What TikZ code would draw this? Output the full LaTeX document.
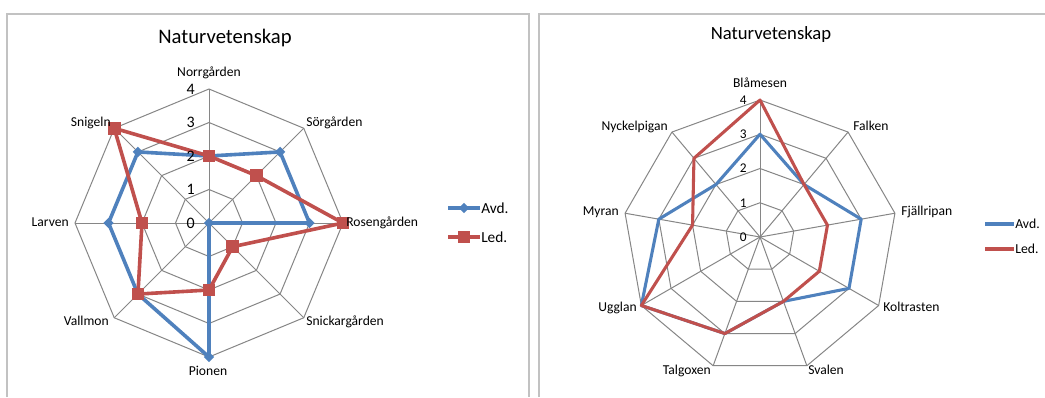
\documentclass[tikz,border=0pt]{standalone}
\usepackage{fontspec}
\setmainfont{Carlito}
\usetikzlibrary{shapes.geometric}
\definecolor{avdblue}{HTML}{4F81BD}
\definecolor{ledred}{HTML}{C0504D}
\definecolor{gridgray}{HTML}{868686}
\definecolor{framegray}{HTML}{C2C2C2}
\begin{document}
\begin{tikzpicture}[x=0.75pt,y=-0.75pt,
  gridline/.style={draw=gridgray, line width=0.75pt},
  avdline/.style={draw=avdblue, line width=2.7pt, line join=round},
  ledline/.style={draw=ledred, line width=2.7pt, line join=round},
  avdthin/.style={draw=avdblue, line width=2.3pt, line join=round},
  ledthin/.style={draw=ledred, line width=2.3pt, line join=round},
  avdmark/.style={diamond, fill=avdblue, inner sep=0pt, minimum size=8pt},
  ledmark/.style={rectangle, fill=ledred, inner sep=0pt, minimum size=9.5pt},
  panel/.style={draw=framegray, line width=1.5pt},
  lbl/.style={inner sep=0pt, font=\fontsize{10.2}{12}\selectfont, text height=0.72em, text depth=0.22em},
  ticklbl/.style={inner sep=0pt, anchor=east, font=\fontsize{12}{14}\selectfont},
  ticksmall/.style={inner sep=0pt, anchor=east, font=\fontsize{10}{12}\selectfont},
  title/.style={inner sep=0pt, font=\fontsize{15.5}{18}\selectfont},
  titlesmall/.style={inner sep=0pt, font=\fontsize{14}{17}\selectfont},
  legbig/.style={inner sep=0pt, anchor=west, font=\fontsize{11.5}{13}\selectfont},
  legsmall/.style={inner sep=0pt, anchor=west, font=\fontsize{10.3}{12}\selectfont}
]
\useasboundingbox[fill=white] (0,0) rectangle (1045,397);

% panel frames
\draw[panel] (7,397) -- (7,14) -- (529,14) -- (529,397);
\draw[panel] (539,397) -- (539,14) -- (1045,14);

% ---------- left chart: eight axes ----------
\def\lu{33.5}
\begin{scope}[shift={(209,223)}]
  \foreach \k in {0,...,7} \coordinate (L\k) at ({-90+\k*45}:{4*\lu});
  \foreach \r in {1,2,3,4}
    \draw[gridline] (-90:{\r*\lu}) \foreach \k in {1,...,7}{ -- ({-90+\k*45}:{\r*\lu}) } -- cycle;
  \foreach \k in {0,...,7} \draw[gridline] (0,0) -- (L\k);
  \foreach \v [count=\k from 0] in {2,3,3,0,4,3,3,3}
    \coordinate (LA\k) at ({-90+\k*45}:{\v*\lu});
  \foreach \v [count=\k from 0] in {2,2,4,1,2,3,2,4}
    \coordinate (LL\k) at ({-90+\k*45}:{\v*\lu});
  \draw[avdline] (LA0) \foreach \k in {1,...,7}{ -- (LA\k) } -- cycle;
  \foreach \k in {0,...,7} \node[avdmark] (LAm\k) at (LA\k) {};
  \draw[ledline] (LL0) \foreach \k in {1,...,7}{ -- (LL\k) } -- cycle;
  \foreach \k in {0,...,7} \node[ledmark] (LLm\k) at (LL\k) {};
  \foreach \v in {0,...,4} \node[ticklbl] (Lt\v) at (-14,{-\v*\lu}) {\v};
\end{scope}

\node[title] (Ltitle) at (225,38) {Naturvetenskap};
\node[lbl] (Lnorr) at (209,73) {Norrgården};
\node[lbl, anchor=west] (Lsor) at (306,123) {Sörgården};
\node[lbl, anchor=west] (Lros) at (346,223) {Rosengården};
\node[lbl, anchor=west] (Lsni) at (306,322) {Snickargården};
\node[lbl] (Lpio) at (208,372) {Pionen};
\node[lbl, anchor=east] (Lval) at (109,322) {Vallmon};
\node[lbl, anchor=east] (Llar) at (69,223) {Larven};
\node[lbl, anchor=east] (Lsng) at (111,123) {Snigeln};

% left legend
\coordinate (LgA1) at (448,208); \coordinate (LgA2) at (480,208);
\coordinate (LgL1) at (448,237); \coordinate (LgL2) at (480,237);
\draw[avdline] (LgA1) -- (LgA2);
\node[avdmark] (LgAm) at (464,208) {};
\draw[ledline] (LgL1) -- (LgL2);
\node[ledmark] (LgLm) at (464,237) {};
\node[legbig] (LgAt) at (481,208) {Avd.};
\node[legbig] (LgLt) at (481,237) {Led.};

% ---------- right chart: nine axes ----------
\def\ru{34.25}
\begin{scope}[shift={(760,237)}]
  \foreach \k in {0,...,8} \coordinate (R\k) at ({-90+\k*40}:{4*\ru});
  \foreach \r in {1,2,3,4}
    \draw[gridline] (-90:{\r*\ru}) \foreach \k in {1,...,8}{ -- ({-90+\k*40}:{\r*\ru}) } -- cycle;
  \foreach \k in {0,...,8} \draw[gridline] (0,0) -- (R\k);
  \foreach \v [count=\k from 0] in {3,2,3,3,2,3,4,3,2}
    \coordinate (RA\k) at ({-90+\k*40}:{\v*\ru});
  \foreach \v [count=\k from 0] in {4,2,2,2,2,3,4,2,3}
    \coordinate (RL\k) at ({-90+\k*40}:{\v*\ru});
  \draw[avdthin] (RA0) \foreach \k in {1,...,8}{ -- (RA\k) } -- cycle;
  \draw[ledthin] (RL0) \foreach \k in {1,...,8}{ -- (RL\k) } -- cycle;
  \foreach \v in {0,...,4} \node[ticksmall] (Rt\v) at (-13,{-\v*\ru}) {\v};
\end{scope}

\node[titlesmall] (Rtitle) at (771,35) {Naturvetenskap};
\node[lbl] (Rbla) at (760,84) {Blåmesen};
\node[lbl, anchor=west] (Rfal) at (853,127) {Falken};
\node[lbl, anchor=west] (Rfja) at (901,212) {Fjällripan};
\node[lbl, anchor=west] (Rkol) at (883,308) {Koltrasten};
\node[lbl, anchor=west] (Rsva) at (808,371) {Svalen};
\node[lbl, anchor=east] (Rtal) at (711,371) {Talgoxen};
\node[lbl, anchor=east] (Rugg) at (637,308) {Ugglan};
\node[lbl, anchor=east] (Rmyr) at (619,212) {Myran};
\node[lbl, anchor=east] (Rnyc) at (668,127) {Nyckelpigan};

% right legend
\coordinate (RgA1) at (985,224); \coordinate (RgA2) at (1014,224);
\coordinate (RgL1) at (985,249); \coordinate (RgL2) at (1014,249);
\draw[avdthin] (RgA1) -- (RgA2);
\draw[ledthin] (RgL1) -- (RgL2);
\node[legsmall] (RgAt) at (1015,224) {Avd.};
\node[legsmall] (RgLt) at (1015,249) {Led.};
\end{tikzpicture}
\end{document}
